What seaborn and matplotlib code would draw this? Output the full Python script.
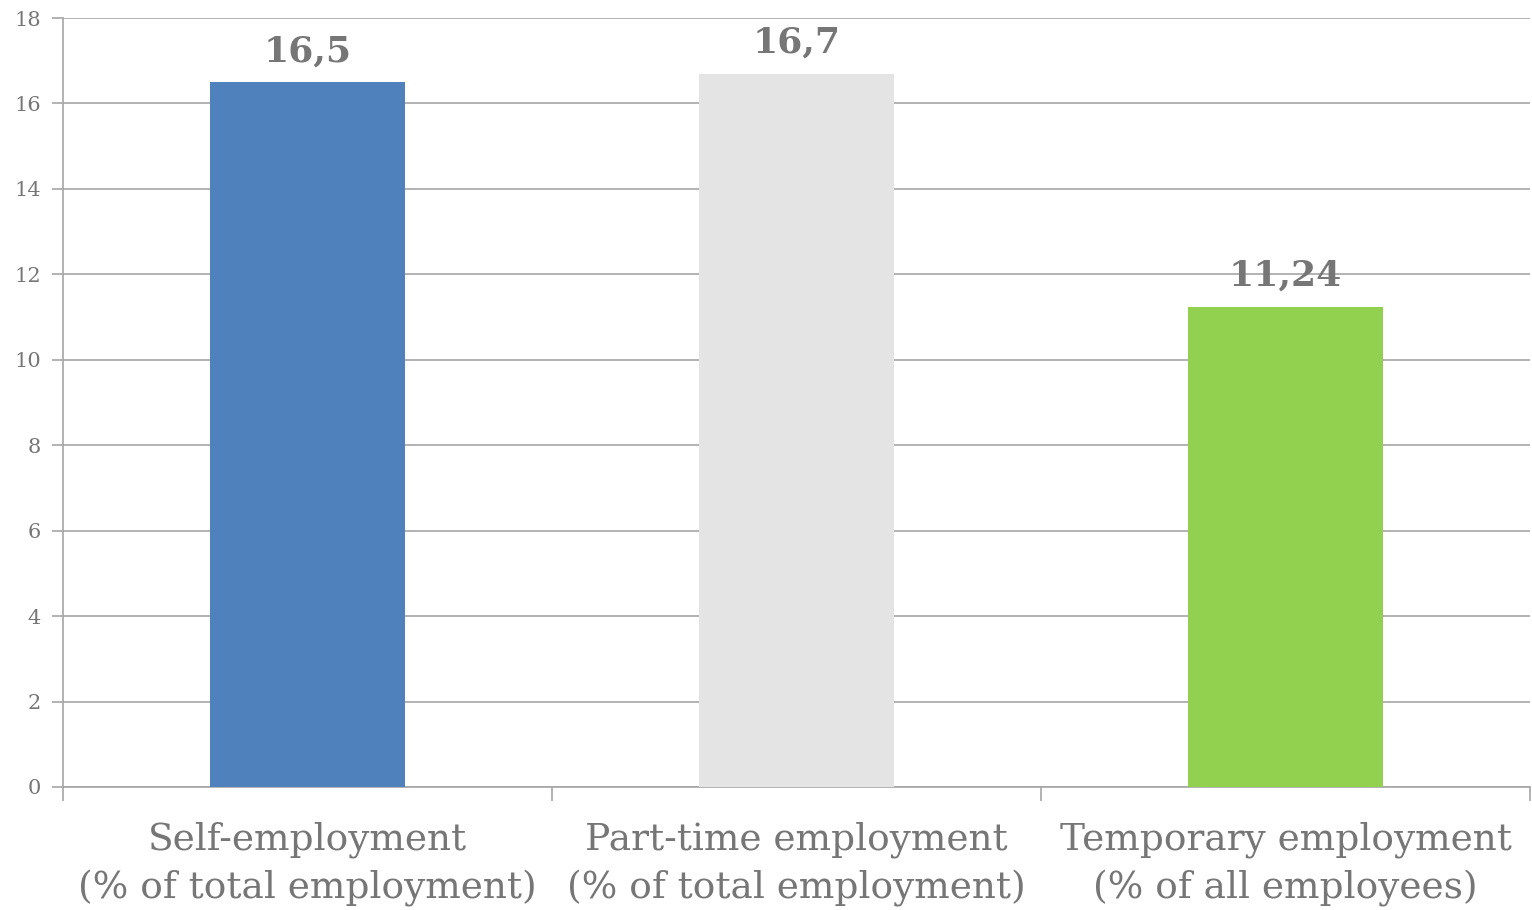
import matplotlib
matplotlib.use("Agg")
import matplotlib.pyplot as plt
import seaborn as sns
import pandas as pd

categories = [
    "Self-employment\n(% of total employment)",
    "Part-time employment\n(% of total employment)",
    "Temporary employment\n(% of all employees)",
]
values = [16.5, 16.7, 11.24]
colors = ["#4f81bd", "#e4e4e4", "#92d050"]
y_ticks = [0, 2, 4, 6, 8, 10, 12, 14, 16, 18]

sns.set_theme(style="white")
plt.rcParams["font.family"] = ["DejaVu Serif"]

grid_c = "#a6a6a6"
text_c = "#767676"

df = pd.DataFrame({"category": categories, "value": values})

fig = plt.figure(figsize=(15.32, 9.10), dpi=100)
ax = fig.add_axes([0.0411, 0.1352, 0.9576, 0.845])

sns.barplot(data=df, x="category", y="value", hue="category",
            palette=colors, width=0.4, saturation=1, legend=False, ax=ax,
            linewidth=0, zorder=3)

ax.set_ylim(0, 18)
ax.set_xlim(-0.5, len(categories) - 0.5)
ax.set_yticks(y_ticks)
ax.set_yticklabels([str(t) for t in y_ticks], fontsize=15, color=text_c)
ax.yaxis.grid(True, color=grid_c, linewidth=1.2, zorder=0)
ax.set_axisbelow(True)

ax.tick_params(axis="x", which="major", length=0, pad=25,
               labelsize=27, labelcolor=text_c)
ax.set_xticks(range(len(categories)))
ax.set_xticklabels(categories, linespacing=1.42)
ax.set_xticks([i - 0.5 for i in range(len(categories) + 1)], minor=True)
ax.tick_params(axis="x", which="minor", length=10, width=1.2, color=grid_c,
               bottom=True)
ax.tick_params(axis="y", which="major", length=8, width=1.2, color=grid_c,
               left=True, pad=8)

for side in ["top", "right"]:
    ax.spines[side].set_visible(False)
for side in ["left", "bottom"]:
    ax.spines[side].set_color(grid_c)
    ax.spines[side].set_linewidth(1.2)

ax.set_xlabel("")
ax.set_ylabel("")

for container in ax.containers:
    labels = [f"{v:g}".replace(".", ",") for v in container.datavalues]
    ax.bar_label(container, labels=labels, padding=10, fontsize=26,
                 fontweight="bold", color=text_c)

fig.savefig("out.png", dpi=100)
